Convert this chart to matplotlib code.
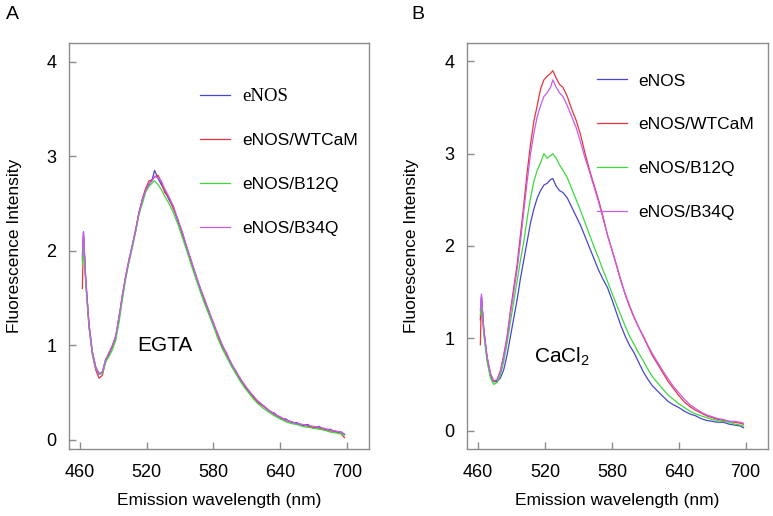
import matplotlib
matplotlib.use('Agg')
import matplotlib.pyplot as plt

plt.rcParams['font.family'] = ['Liberation Sans', 'DejaVu Sans']

# длины волн, нм
wl = [462, 463, 465, 468, 471, 474, 477, 480, 483, 486,
      489, 492, 495, 498, 501, 504, 507, 510, 513, 516,
      519, 522, 525, 527, 530, 533, 536,
      540, 544, 548, 552, 556, 560, 564, 568, 572, 576,
      580, 584, 588, 592, 596, 600, 604, 608, 612, 616,
      620,
      625, 630, 635, 640, 645, 650, 655, 660, 665, 670,
      675, 680, 685, 690, 695, 698]

labels = ['eNOS', 'eNOS/WTCaM', 'eNOS/B12Q', 'eNOS/B34Q']
colors = ['#4646d2', '#e8343a', '#3ed83e', '#c65cec']

# панель A (EGTA)
a_enos = [1.9, 2.2, 1.68, 1.22, 0.93, 0.77, 0.7, 0.71, 0.85, 0.9,
          0.99, 1.07, 1.3, 1.5, 1.73, 1.89, 2.06, 2.21, 2.41, 2.52,
          2.65, 2.7, 2.76, 2.85, 2.77, 2.7, 2.64,
          2.54, 2.46, 2.31, 2.19, 2.02, 1.89, 1.73, 1.61, 1.46, 1.36,
          1.21, 1.11, 0.98, 0.91, 0.79, 0.73, 0.63, 0.58, 0.5, 0.46,
          0.39,
          0.36, 0.3, 0.28, 0.22, 0.22, 0.18, 0.18, 0.15, 0.16, 0.12,
          0.14, 0.1, 0.11, 0.08, 0.08, 0.05]
a_wt = [1.6, 2.15, 1.7, 1.2, 0.9, 0.74, 0.65, 0.68, 0.83, 0.92,
        0.98, 1.09, 1.27, 1.53, 1.72, 1.91, 2.05, 2.23, 2.4, 2.55,
        2.66, 2.74, 2.75, 2.78, 2.8, 2.73, 2.62,
        2.56, 2.44, 2.33, 2.17, 2.04, 1.87, 1.75, 1.59, 1.48, 1.34,
        1.24, 1.09, 1.0, 0.89, 0.81, 0.71, 0.65, 0.56, 0.51, 0.44,
        0.4,
        0.35, 0.31, 0.26, 0.24, 0.2, 0.19, 0.16, 0.16, 0.14, 0.13,
        0.12, 0.11, 0.09, 0.09, 0.06, 0.02]
a_b12q = [1.85, 2.1, 1.66, 1.18, 0.91, 0.76, 0.69, 0.7, 0.82, 0.88,
          0.95, 1.05, 1.24, 1.48, 1.7, 1.88, 2.03, 2.2, 2.38, 2.5,
          2.62, 2.68, 2.72, 2.74, 2.7, 2.65, 2.58,
          2.5, 2.4, 2.28, 2.14, 2.0, 1.85, 1.71, 1.57, 1.44, 1.32,
          1.2, 1.07, 0.96, 0.87, 0.78, 0.7, 0.62, 0.55, 0.49, 0.43,
          0.38,
          0.33, 0.29, 0.25, 0.22, 0.19, 0.17, 0.16, 0.14, 0.13, 0.12,
          0.11, 0.1, 0.08, 0.07, 0.06, 0.05]
a_b34q = [1.95, 2.2, 1.72, 1.21, 0.93, 0.77, 0.69, 0.72, 0.85, 0.92,
          1.0, 1.1, 1.3, 1.53, 1.73, 1.9, 2.06, 2.22, 2.4, 2.54,
          2.64, 2.71, 2.74, 2.79, 2.77, 2.74, 2.66,
          2.57, 2.47, 2.33, 2.2, 2.04, 1.9, 1.75, 1.61, 1.49, 1.36,
          1.23, 1.12, 1.0, 0.91, 0.81, 0.73, 0.65, 0.58, 0.52, 0.46,
          0.41,
          0.36, 0.31, 0.27, 0.24, 0.21, 0.19, 0.17, 0.16, 0.15, 0.14,
          0.13, 0.12, 0.1, 0.09, 0.08, 0.06]

# панель B (CaCl2)
b_enos = [1.2, 1.45, 1.1, 0.78, 0.6, 0.53, 0.53, 0.57, 0.66, 0.82,
          1.02, 1.22, 1.42, 1.65, 1.85, 2.05, 2.25, 2.4, 2.52, 2.6,
          2.66, 2.68, 2.72, 2.73, 2.65, 2.6, 2.58,
          2.52, 2.42, 2.32, 2.22, 2.1, 1.98, 1.86, 1.74, 1.64, 1.55,
          1.42, 1.28, 1.14, 1.02, 0.92, 0.84, 0.74, 0.64, 0.56, 0.49,
          0.44,
          0.38, 0.32, 0.28, 0.25, 0.21, 0.18, 0.16, 0.13, 0.11, 0.1,
          0.09, 0.09, 0.07, 0.06, 0.05, 0.03]
b_wt = [0.93, 1.45, 1.1, 0.8, 0.62, 0.53, 0.55, 0.65, 0.82, 1.02,
        1.3, 1.55, 1.8, 2.12, 2.45, 2.8, 3.1, 3.35, 3.52, 3.7,
        3.8, 3.84, 3.87, 3.9, 3.82, 3.75, 3.72,
        3.62, 3.48, 3.36, 3.2, 3.0, 2.82, 2.66, 2.5, 2.32, 2.12,
        1.96, 1.8, 1.63, 1.47, 1.34, 1.22, 1.12, 1.02, 0.92, 0.82,
        0.74,
        0.64, 0.54, 0.46, 0.38, 0.31, 0.26, 0.22, 0.19, 0.16, 0.14,
        0.12, 0.11, 0.1, 0.09, 0.08, 0.07]
b_b12q = [1.25, 1.4, 1.05, 0.75, 0.57, 0.5, 0.52, 0.6, 0.75, 0.95,
          1.18, 1.4, 1.62, 1.85, 2.05, 2.3, 2.52, 2.7, 2.82, 2.9,
          3.0, 2.95, 2.98, 3.0, 2.95, 2.88, 2.82,
          2.74, 2.62, 2.5, 2.38, 2.25, 2.12, 1.99, 1.87, 1.74, 1.62,
          1.49, 1.37, 1.25, 1.13, 1.02, 0.93, 0.84, 0.76, 0.67, 0.59,
          0.53,
          0.46, 0.39, 0.34, 0.29, 0.25, 0.21, 0.18, 0.16, 0.14, 0.12,
          0.11, 0.1, 0.09, 0.07, 0.06, 0.05]
b_b34q = [1.3, 1.48, 1.1, 0.8, 0.62, 0.54, 0.55, 0.64, 0.8, 1.0,
          1.27, 1.5, 1.75, 2.05, 2.38, 2.7, 3.0, 3.22, 3.4, 3.52,
          3.62, 3.66, 3.72, 3.8, 3.72, 3.66, 3.62,
          3.52, 3.4, 3.28, 3.12, 2.95, 2.8, 2.64, 2.48, 2.3, 2.12,
          1.96, 1.79, 1.62, 1.48, 1.35, 1.23, 1.12, 1.03, 0.93, 0.84,
          0.76,
          0.66, 0.57, 0.48, 0.41, 0.34, 0.28, 0.24, 0.2, 0.17, 0.15,
          0.13, 0.12, 0.1, 0.1, 0.09, 0.08]


def draw_panel(ax, series, ylim, legend_anchor):
    """Рисует одну панель со спектрами."""

    for y, color, label in zip(series, colors, labels):
        ax.plot(wl, y, color=color, lw=0.9, label=label)

    ax.set_xlim(450, 720)
    ax.set_ylim(*ylim)
    ax.set_xticks([460, 520, 580, 640, 700])
    ax.set_yticks([0, 1, 2, 3, 4])

    for spine in ax.spines.values():
        spine.set_color('#8c8c8c')
        spine.set_linewidth(1.0)
    ax.tick_params(direction='in', length=5, width=1.0, color='#8c8c8c',
                   labelsize=13, labelcolor='black')
    ax.tick_params(axis='x', pad=11)
    ax.tick_params(axis='y', pad=9)

    ax.set_xlabel('Emission wavelength (nm)', fontsize=12.5)
    ax.set_ylabel('Fluorescence Intensity', fontsize=12.5)
    ax.xaxis.set_label_coords(0.5, -0.108)
    ax.yaxis.set_label_coords(-0.158, 0.5)

    leg = ax.legend(loc='upper left', bbox_to_anchor=legend_anchor,
                    frameon=False, fontsize=12.5, handlelength=1.75,
                    handletextpad=0.65, labelspacing=1.65,
                    borderpad=0, borderaxespad=0)
    return leg


fig = plt.figure(figsize=(7.73, 5.16), dpi=100)
ax_a = fig.add_axes([0.0893, 0.1298, 0.388, 0.787])
ax_b = fig.add_axes([0.6041, 0.1298, 0.3894, 0.787])

leg_a = draw_panel(ax_a, [a_enos, a_wt, a_b12q, a_b34q], (-0.1, 4.2),
                   (0.437, 0.89))
# в панели A первая подпись набрана шрифтом с засечками
leg_a.get_texts()[0].set_fontfamily('Liberation Serif')
leg_a.get_texts()[0].set_fontsize(13.5)

draw_panel(ax_b, [b_enos, b_wt, b_b12q, b_b34q], (-0.2, 4.2),
           (0.432, 0.925))

ax_a.text(536, 1.0, 'EGTA', fontsize=15, ha='center', va='center')
ax_b.text(535, 0.8, r'CaCl$_\mathregular{2}$', fontsize=15,
          ha='center', va='center')

fig.text(0.016, 0.971, 'A', fontsize=14, ha='center', va='center')
fig.text(0.54, 0.971, 'B', fontsize=14, ha='center', va='center')

fig.savefig('out.png', dpi=100)
